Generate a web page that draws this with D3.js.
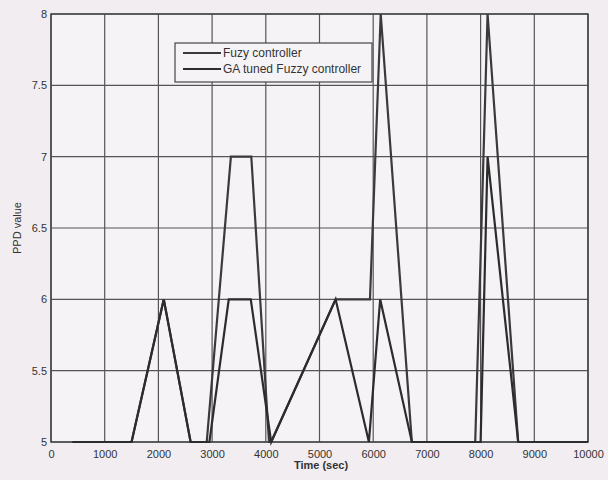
<!DOCTYPE html>
<html><head><meta charset="utf-8">
<script src="https://cdn.jsdelivr.net/npm/d3@7"></script>
<style>
html,body{margin:0;padding:0;background:#f1edf1;}
svg{display:block;}
text{font-family:"Liberation Sans",Arial,sans-serif;fill:#333;}
</style></head><body>
<svg id="c" width="608" height="480"></svg>
<script>
const xTicks = [0,1000,2000,3000,4000,5000,6000,7000,8000,9000,10000];
const yTicks = [5,5.5,6,6.5,7,7.5,8];
const seriesNames = ["Fuzy controller","GA tuned Fuzzy controller"];
const fuzzyTime = [400,1500,2100,2600,2900,3350,3730,4060,4100,5300,5940,6140,6720,7900,8130,8700,10000];
const fuzzyPPD  = [5,  5,   6,   5,   5,   7,   7,   5,   5,   6,   6,   8,   5,   5,   8,   5,   5];
const gaTime = [400,1500,2100,2600,2950,3310,3720,4100,5300,5920,6130,6720,8000,8130,8700,10000];
const gaPPD  = [5,  5,   6,   5,   5,   6,   6,   5,   6,   5,   6,   5,   5,   7,   5,   5];

const svg = d3.select("#c");
const m = {l:51, r:588, t:14, b:442};
const x = d3.scaleLinear().domain([0,10000]).range([m.l,m.r]);
const y = d3.scaleLinear().domain([5,8]).range([m.b,m.t]);

svg.append("rect").attr("x",m.l).attr("y",m.t).attr("width",m.r-m.l).attr("height",m.b-m.t).attr("fill","#f6f3f7");

// grid
const grid = svg.append("g").attr("stroke","#555").attr("stroke-width",1.2);
xTicks.forEach(t=>grid.append("line").attr("x1",x(t)).attr("x2",x(t)).attr("y1",m.t).attr("y2",m.b));
yTicks.forEach(t=>grid.append("line").attr("x1",m.l).attr("x2",m.r).attr("y1",y(t)).attr("y2",y(t)));

// axes
const xa = svg.append("g").attr("transform",`translate(0,${m.b})`)
  .call(d3.axisBottom(x).tickValues(xTicks).tickFormat(d3.format("d")).tickSize(0).tickPadding(8));
const ya = svg.append("g").attr("transform",`translate(${m.l},0)`)
  .call(d3.axisLeft(y).tickValues(yTicks).tickFormat(d=>String(d)).tickSize(0).tickPadding(4));
[xa,ya].forEach(a=>{a.select(".domain").remove();a.selectAll("text").attr("font-size","11px").attr("fill","#333").attr("font-family","Liberation Sans, Arial, sans-serif");});
svg.append("rect").attr("x",m.l).attr("y",m.t).attr("width",m.r-m.l).attr("height",m.b-m.t)
  .attr("fill","none").attr("stroke","#444").attr("stroke-width",1.5);

// lines
const line = d3.line().x(d=>x(d[0])).y(d=>y(d[1]));
const colors = ["#3a3a3a","#2c2c2c"];
const data = [d3.zip(fuzzyTime,fuzzyPPD), d3.zip(gaTime,gaPPD)];
data.forEach((d,i)=>svg.append("path").datum(d).attr("d",line).attr("fill","none")
  .attr("stroke",colors[i]).attr("stroke-width",2.2).attr("stroke-linejoin","miter"));

// labels
svg.append("text").attr("x",321).attr("y",469).attr("text-anchor","middle").attr("font-size","11px").attr("font-weight","bold").text("Time (sec)");
svg.append("text").attr("transform",`translate(21,${(m.t+m.b)/2}) rotate(-90)`).attr("text-anchor","middle").attr("font-size","11px").text("PPD value");

// legend
const lg = svg.append("g");
lg.append("rect").attr("x",175).attr("y",43).attr("width",197).attr("height",39).attr("fill","#f6f3f7").attr("stroke","#444").attr("stroke-width",1.2);
seriesNames.forEach((n,i)=>{
  const yy = 53 + i*16;
  lg.append("line").attr("x1",183).attr("x2",221).attr("y1",yy).attr("y2",yy).attr("stroke",colors[i]).attr("stroke-width",2.2);
  lg.append("text").attr("x",223).attr("y",yy+4).attr("font-size","12px").text(n);
});
</script></body></html>
